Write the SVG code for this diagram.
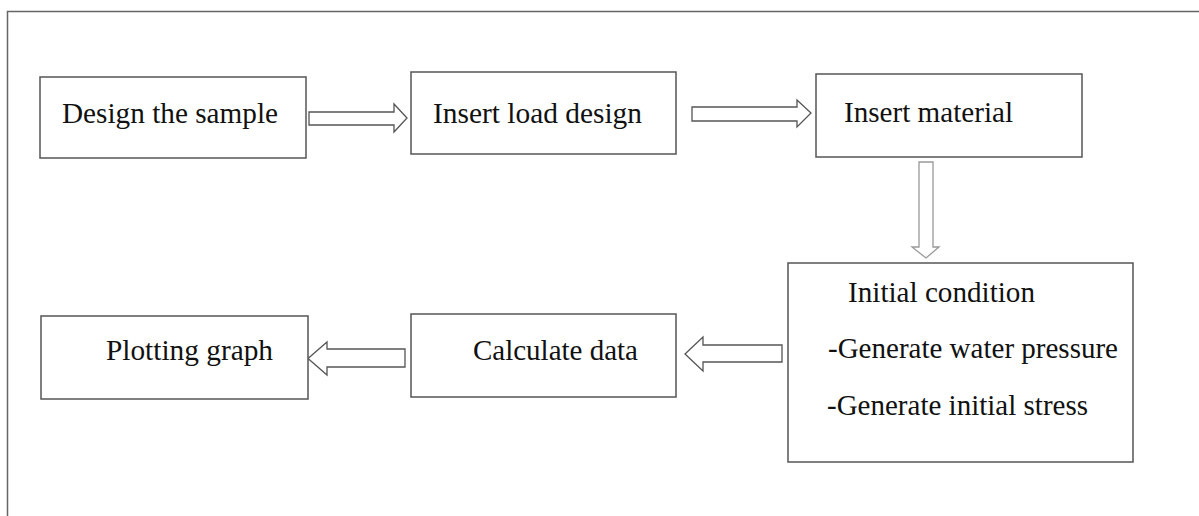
<svg xmlns="http://www.w3.org/2000/svg" width="1199" height="516" viewBox="0 0 1199 516">
<style>
.box{fill:#fff;stroke:#555;stroke-width:1.5}
.arr{fill:#fff;stroke:#555;stroke-width:1.3;stroke-linejoin:miter}
.arrl{fill:#fff;stroke:#999;stroke-width:1.3}
text{font-family:"Liberation Serif","Times New Roman",serif;font-size:29px;fill:#111}
</style>
<rect width="1199" height="516" fill="#fff"/>
<path d="M7.5,516 V11.5 H1199" fill="none" stroke="#666" stroke-width="1.5"/>
<g id="connectors">
<polygon class="arr" points="309,112 394,112 394,104 407,118 394,132 394,125 309,125"/>
<polygon class="arr" points="692,107 797,107 797,100 811,113 797,127 797,121 692,121"/>
<polygon class="arrl" points="919,162 933,162 933,247 939,247 926,258 912,247 919,247"/>
<polygon class="arr" points="782,345 703,345 703,337 685,354 703,371 703,362 782,362"/>
<polygon class="arr" points="405,349 327,349 327,342 308,358.5 327,375 327,367 405,367"/>
</g>
<g id="n1"><rect class="box" x="40" y="77" width="266" height="81"/><text x="62" y="123" textLength="216" lengthAdjust="spacingAndGlyphs">Design the sample</text></g>
<g id="n2"><rect class="box" x="411" y="72" width="265" height="82"/><text x="433" y="123" textLength="209" lengthAdjust="spacingAndGlyphs">Insert load design</text></g>
<g id="n3"><rect class="box" x="816" y="74" width="266" height="83"/><text x="844" y="122" textLength="169" lengthAdjust="spacingAndGlyphs">Insert material</text></g>
<g id="n4"><rect class="box" x="788" y="263" width="345" height="199"/>
<text x="848" y="302" textLength="187" lengthAdjust="spacingAndGlyphs">Initial condition</text>
<text x="828" y="358" textLength="290" lengthAdjust="spacingAndGlyphs">-Generate water pressure</text>
<text x="827" y="415" textLength="261" lengthAdjust="spacingAndGlyphs">-Generate initial stress</text></g>
<g id="n5"><rect class="box" x="411" y="314" width="265" height="83"/><text x="473" y="360" textLength="165" lengthAdjust="spacingAndGlyphs">Calculate data</text></g>
<g id="n6"><rect class="box" x="41" y="316" width="267" height="83"/><text x="106" y="360" textLength="167" lengthAdjust="spacingAndGlyphs">Plotting graph</text></g>
</svg>
